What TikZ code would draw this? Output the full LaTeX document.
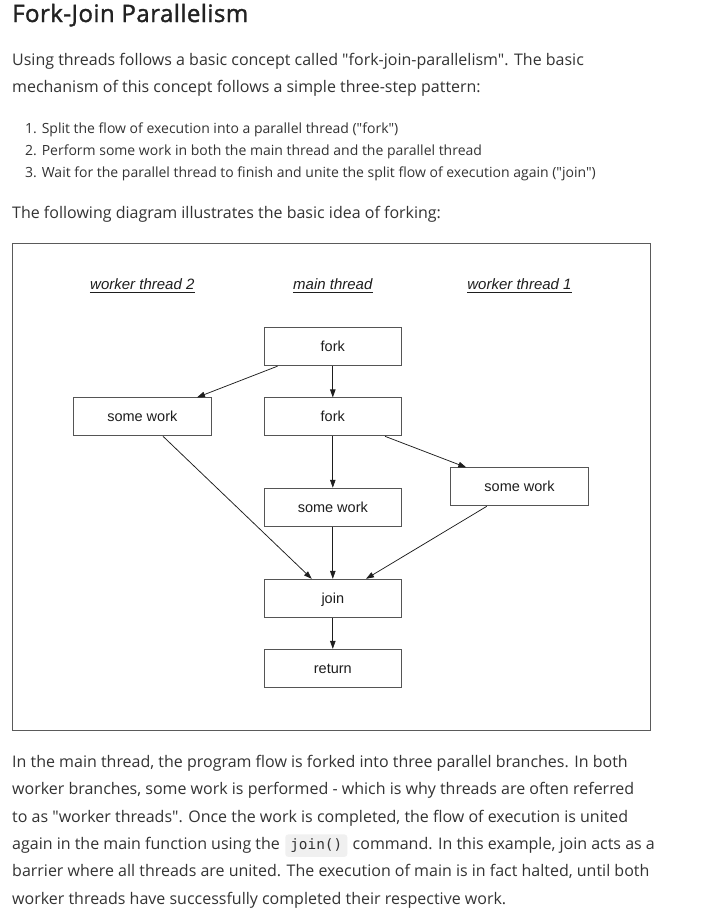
\documentclass[tikz,border=0pt]{standalone}
\usepackage{fontspec}
\setmainfont{Open Sans}[Ligatures=TeXOff]
\newfontfamily\titlefont{Open Sans}[Ligatures=TeXOff, FakeBold=1.5, LetterSpace=2]
\newfontfamily\diagfont{Liberation Sans}
\newfontfamily\codefont{DejaVu Sans Mono}
\usetikzlibrary{arrows.meta}
\definecolor{txt}{HTML}{333333}
\definecolor{ttl}{HTML}{222222}
\definecolor{framegray}{HTML}{5A5A5A}
\definecolor{boxgray}{HTML}{555555}
\definecolor{codebg}{HTML}{F0F0F0}
\definecolor{ink}{HTML}{1E1E1E}
\tikzset{
  body/.style={anchor=base west, inner sep=0pt, text=txt, font=\fontsize{16}{20}\selectfont},
  listline/.style={anchor=base west, inner sep=0pt, text=txt, font=\fontsize{14}{18}\selectfont},
  hdr/.style={anchor=base, inner sep=0pt, text=ink, font=\diagfont\itshape\fontsize{15}{18}\selectfont},
  ul/.style={draw=ink, line width=0.8pt},
  stepbox/.style={draw=boxgray, fill=white, line width=0.9pt, minimum width=137.5pt, minimum height=38pt,
    inner sep=0pt, text=ink, font=\diagfont\fontsize{14.5}{17}\selectfont, text height=11pt, text depth=1pt},
  flow/.style={draw=ink, line width=0.75pt, -{Triangle[length=8pt,width=5.5pt]}},
}
\begin{document}
\begin{tikzpicture}[x=1pt,y=-1pt]
\useasboundingbox (0,0) rectangle (715,918);
\fill[white] (0,0) rectangle (715,918);

% heading and intro text
\node[anchor=base west, inner sep=0pt, text=ttl, font=\titlefont\fontsize{24}{28}\selectfont] (title) at (12,22) {Fork-Join Parallelism};
\node[body] (p1) at (12,65.5) {Using threads follows a basic concept called "fork-join-parallelism". The basic};
\node[body] (p2) at (12,92.5) {mechanism of this concept follows a simple three-step pattern:};
\node[listline] (l1) at (25,133.3) {1. Split the flow of execution into a parallel thread ("fork")};
\node[listline] (l2) at (25,155.5) {2. Perform some work in both the main thread and the parallel thread};
\node[listline] (l3) at (25,177.7) {3. Wait for the parallel thread to finish and unite the split flow of execution again ("join")};
\node[body] (p3) at (12,218) {The following diagram illustrates the basic idea of forking:};

% diagram frame
\node[draw=framegray, line width=1pt, minimum width=638pt, minimum height=487pt, inner sep=0pt] (frame) at (331,486.5) {};

% column headers
\node[hdr] (h2) at (142.3,289) {worker thread 2};
\node[hdr] (hm) at (332.8,289) {main thread};
\node[hdr] (h1) at (519.5,289) {worker thread 1};
\draw[ul] ([yshift=-3pt]h2.base west) -- ([yshift=-3pt]h2.base east);
\draw[ul] ([yshift=-3pt]hm.base west) -- ([yshift=-3pt]hm.base east);
\draw[ul] ([yshift=-3pt]h1.base west) -- ([yshift=-3pt]h1.base east);

% boxes
\node[stepbox] (fork1) at (332.8,346.7) {fork};
\node[stepbox] (fork2) at (332.8,416.85) {fork};
\node[stepbox] (work2) at (142.3,416.85) {some work};
\node[stepbox] (mwork) at (332.8,507.2) {some work};
\node[stepbox] (work1) at (519.5,486.9) {some work};
\node[stepbox] (join) at (332.8,598.3) {join};
\node[stepbox] (ret) at (332.8,668.3) {return};

% connectors
\draw[flow] ([xshift=14pt]fork1.south west) -- ([xshift=54.7pt]work2.north);
\draw[flow] (fork1.south) -- (fork2.north);
\draw[flow] ([xshift=52.2pt]fork2.south) -- ([xshift=16pt]work1.north west);
\draw[flow] (fork2.south) -- (mwork.north);
\draw[flow] ([xshift=20.7pt]work2.south) -- ([xshift=-21pt]join.north);
\draw[flow] (mwork.south) -- (join.north);
\draw[flow] ([xshift=-32.8pt]work1.south) -- ([xshift=33.2pt]join.north);
\draw[flow] (join.south) -- (ret.north);

% closing text
\node[body] (q1) at (12,767.5) {In the main thread, the program flow is forked into three parallel branches. In both};
\node[body] (q2) at (12,794.8) {worker branches, some work is performed - which is why threads are often referred};
\node[body] (q3) at (12,822.1) {to as "worker threads". Once the work is completed, the flow of execution is united};
\node[body] (q4a) at (12,849.4) {again in the main function using the};
\node[anchor=base west, fill=codebg, rounded corners=3pt, inner xsep=5pt, inner ysep=4pt, text height=11pt, text depth=3.5pt,
  text=txt, font=\codefont\fontsize{14.4}{17}\selectfont] (code) at ([xshift=5pt]q4a.base east) {join()};
\node[body] (q4b) at ([xshift=5pt]code.base east) {command. In this example, join acts as a};
\node[body] (q5) at (12,876.7) {barrier where all threads are united. The execution of main is in fact halted, until both};
\node[body] (q6) at (12,904) {worker threads have successfully completed their respective work.};
\end{tikzpicture}
\end{document}
